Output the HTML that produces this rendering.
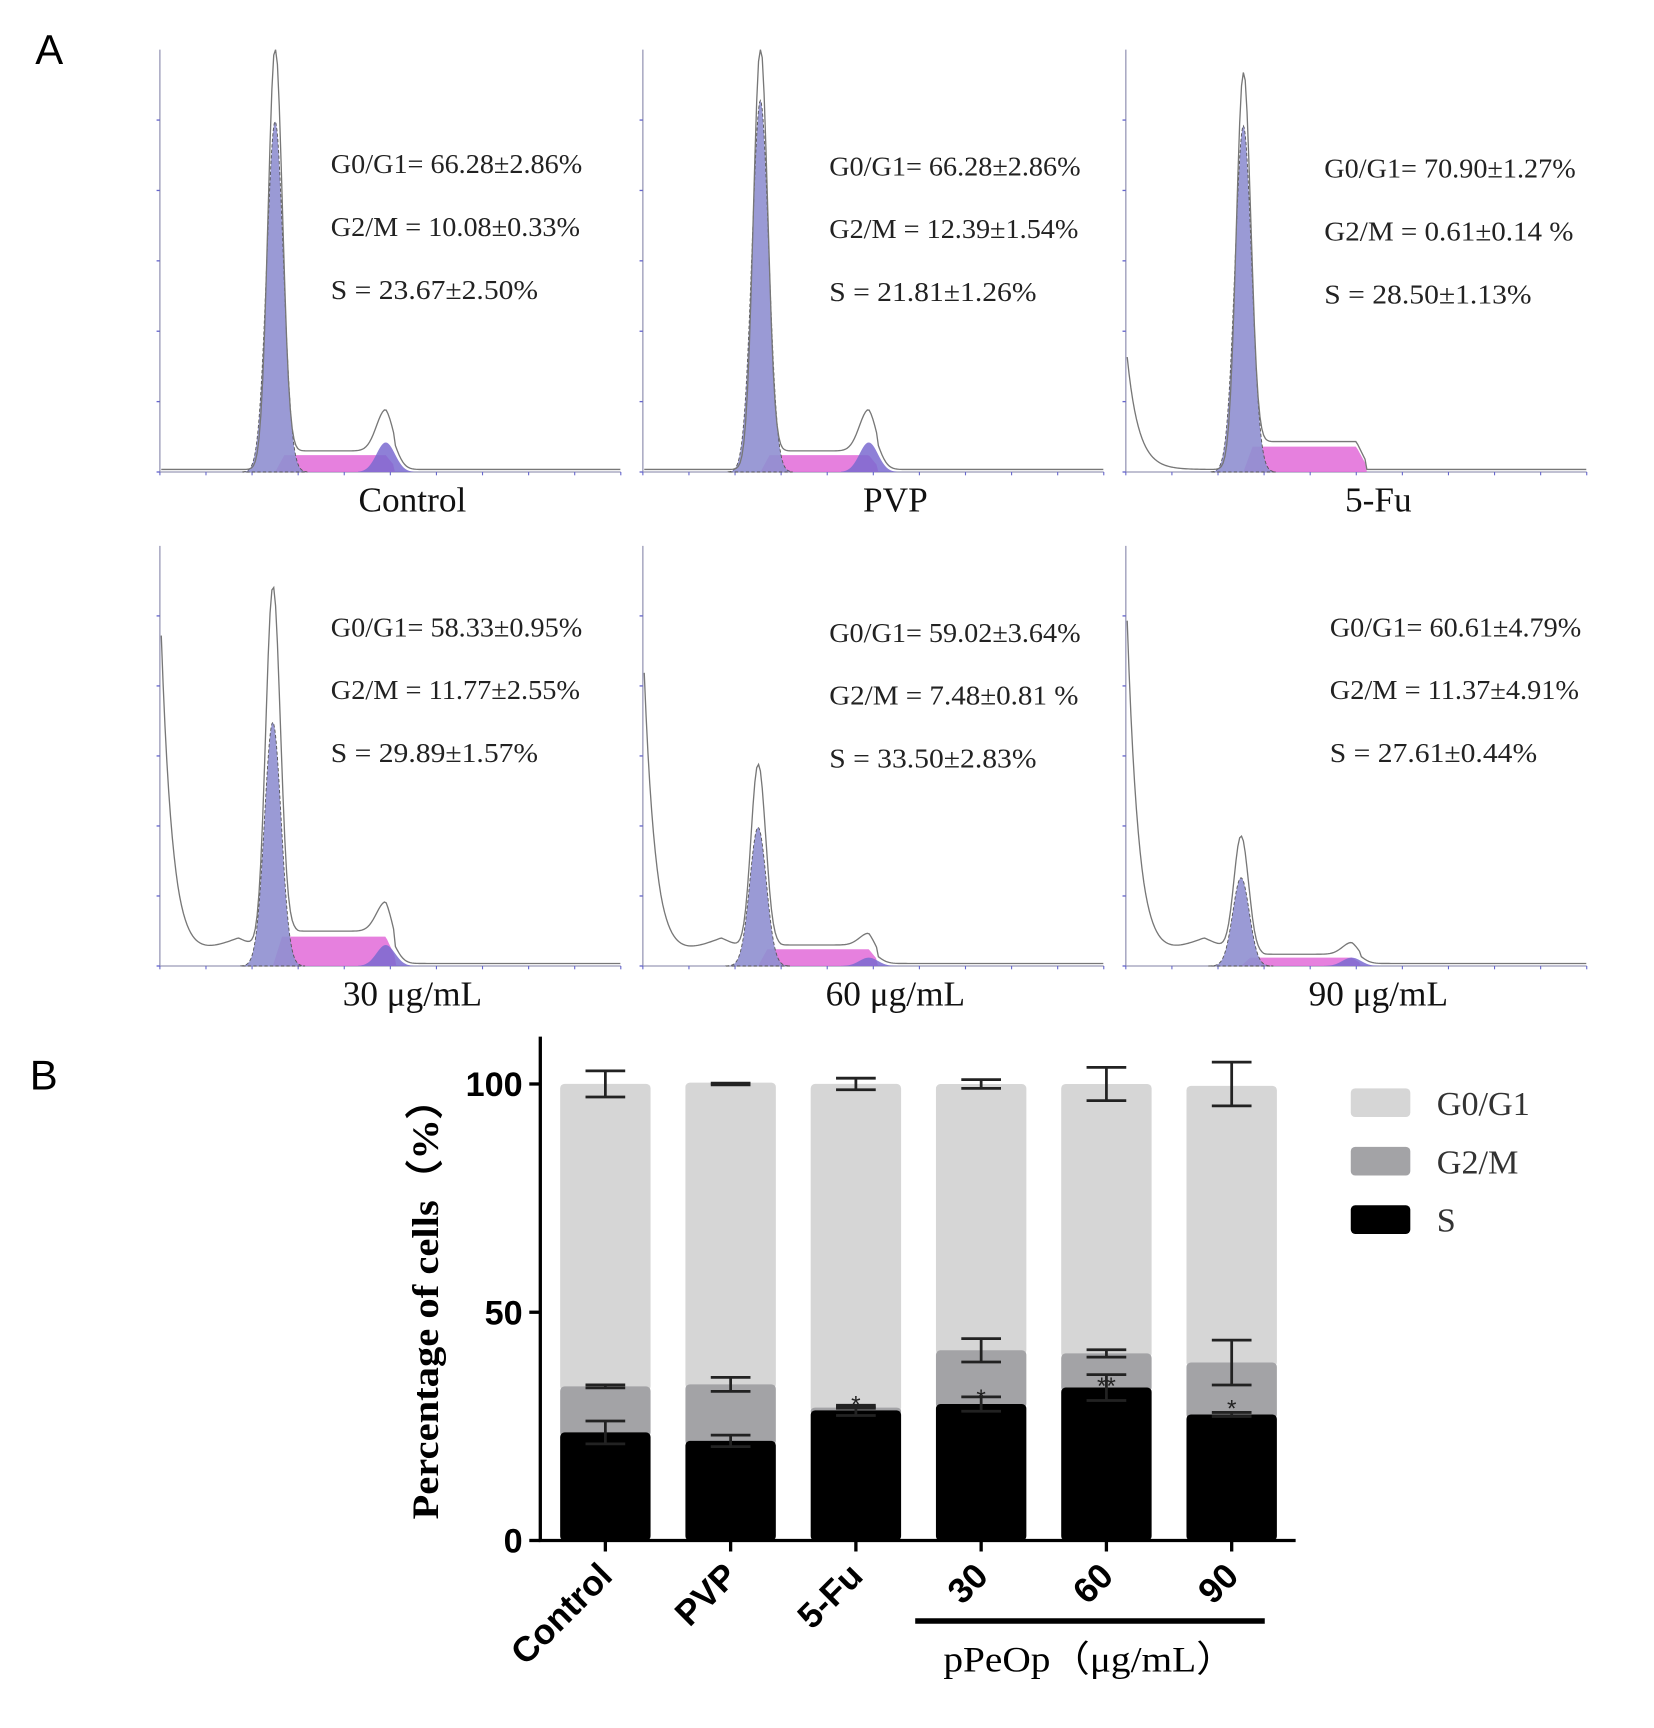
<!DOCTYPE html>
<html><head><meta charset="utf-8"><style>
html,body{margin:0;padding:0;background:#fff;}
svg{display:block;}
.serif{font-family:"Liberation Serif",serif;}
.sans{font-family:"Liberation Sans",sans-serif;}
</style></head><body>
<svg id="fig" width="1654" height="1728" viewBox="0 0 1500 1567" xmlns="http://www.w3.org/2000/svg">
<rect width="1500" height="1567" fill="#fff"/>
<text x="32" y="58" class="sans" font-size="38">A</text>
<text x="27" y="988" class="sans" font-size="38">B</text>
<g id="histos"></g>
<g id="bars"></g>
</svg>
<script>
// ---------- Panel A data ----------
const panelNames = ["Control","PVP","5-Fu","30 μg/mL","60 μg/mL","90 μg/mL"];
const g1Text = ["66.28±2.86%","66.28±2.86%","70.90±1.27%","58.33±0.95%","59.02±3.64%","60.61±4.79%"];
const g2Text = ["10.08±0.33%","12.39±1.54%","0.61±0.14 %","11.77±2.55%","7.48±0.81 %","11.37±4.91%"];
const sText = ["23.67±2.50%","21.81±1.26%","28.50±1.13%","29.89±1.57%","33.50±2.83%","27.61±0.44%"];
const g1Pos = [0.25,0.255,0.255,0.245,0.25,0.25];
const g1Height = [0.83,0.88,0.82,0.58,0.33,0.21];
const g1Outline = [1.0,1.0,0.94,0.87,0.45,0.28];
const g2Pos = [0.49,0.49,0.5,0.49,0.49,0.49];
const g2Height = [0.07,0.07,0.0,0.05,0.02,0.02];
const sHeight = [0.04,0.04,0.06,0.07,0.04,0.02];
const debris = [0.0,0.0,0.3,0.88,0.78,0.92];

const NS="http://www.w3.org/2000/svg";
function mk(tag,attrs,parent){const e=document.createElementNS(NS,tag);for(const k in attrs)e.setAttribute(k,attrs[k]);parent.appendChild(e);return e;}
const H=document.getElementById('histos');
const colX=[145,583,1021], rowBase=[428,876], rowTop=[45,495], AW=418;
const txOff=[155,169,180,155,169,185], tyAbs=[150,152,154,570,575,570];
for(let i=0;i<6;i++){
  const ox=colX[i%3], by=rowBase[Math.floor(i/3)], ty=rowTop[Math.floor(i/3)], ah=by-ty;
  const g=mk('g',{},H);
  
  
  mk('line',{x1:ox,y1:ty,x2:ox,y2:by,stroke:'#9a9ab8','stroke-width':1.2},g);
  mk('line',{x1:ox,y1:by,x2:ox+AW,y2:by,stroke:'#9a9ab8','stroke-width':1.2},g);
  for(let k=0;k<6;k++){mk('line',{x1:ox-3,x2:ox,y1:by-k*ah/6,y2:by-k*ah/6,stroke:'#6666cc','stroke-width':1.2},g);}
  for(let k=0;k<=10;k++){mk('line',{x1:ox+k*AW/10,x2:ox+k*AW/10,y1:by,y2:by+3,stroke:'#6666cc','stroke-width':1},g);}
  const px=f=>ox+f*AW, py=f=>by-f*ah;
  const gx1=g1Pos[i], gx2=g2Pos[i], sig1=0.018, sig2=0.02;
  const gauss=(x,m,s)=>Math.exp(-0.5*((x-m)/s)**2);
  const sFun=x=>(x>gx1&&x<gx2+0.02)?sHeight[i]*Math.min(1,(x-gx1)/0.02,(gx2+0.03-x)/0.03):0;
  let d='M'+px(gx1)+','+by;
  for(let x=gx1;x<=gx2+0.03;x+=0.004)d+=' L'+px(x)+','+py(sFun(x));
  d+=' L'+px(gx2+0.03)+','+by+'Z';
  mk('path',{d:d,fill:'#e26ad8','fill-opacity':0.85},g);
  if(g2Height[i]>0){d='M'+px(gx2-0.06)+','+by;for(let x=gx2-0.06;x<=gx2+0.06;x+=0.003)d+=' L'+px(x)+','+py(g2Height[i]*gauss(x,gx2,sig2));d+=' L'+px(gx2+0.06)+','+by+'Z';
  mk('path',{d:d,fill:'#7a6ad0','fill-opacity':0.85},g);}
  d='M'+px(gx1-0.07)+','+by;for(let x=gx1-0.07;x<=gx1+0.07;x+=0.002)d+=' L'+px(x)+','+py(g1Height[i]*gauss(x,gx1,sig1));d+=' L'+px(gx1+0.07)+','+by+'Z';
  mk('path',{d:d,fill:'#8f8fd0','fill-opacity':0.9,stroke:'#555','stroke-width':0.8,'stroke-dasharray':'3,2'},g);
  d='';
  for(let x=0.003;x<=1;x+=0.004){
    let y=g1Outline[i]*gauss(x,gx1,sig1*0.85)+sFun(x)*1.1+(g2Height[i]>0?g2Height[i]*1.4*gauss(x,gx2,sig2):0)+debris[i]*Math.exp(-x/0.025)+(debris[i]>0.5?0.06*Math.max(0,1-Math.abs(x-0.17)/0.13):0)+0.006;
    d+=(d?' L':'M')+px(x)+','+py(Math.min(y,1));
  }
  mk('path',{d:d,fill:'none',stroke:'#777','stroke-width':1.2},g);
  const tx=ox+txOff[i], ty0=tyAbs[i]+7;
  [["G0/G1= ",g1Text[i]],["G2/M = ",g2Text[i]],["S  = ",sText[i]]].forEach((r,k)=>{
    const t=mk('text',{x:tx,y:ty0+k*57,'font-size':25,class:'serif',fill:'#222','textLength':(k===0?228:(k===1?226:188)),'lengthAdjust':'spacingAndGlyphs'},g);
    t.textContent=r[0]+r[1];
    
    
  });
  const c=mk('text',{x:ox+AW/2+20,y:by+36,'font-size':32,'text-anchor':'middle',class:'serif',fill:'#111'},g);
  c.textContent=panelNames[i];
  
  
}

// ---------- Panel B data ----------
const categories = ["Control","PVP","5-Fu","30","60","90"];
const sVals = [23.67,21.81,28.50,29.89,33.50,27.61];
const g2Vals = [10.08,12.39,0.61,11.77,7.48,11.37];
const g1Vals = [66.28,66.28,70.90,58.33,59.02,60.61];
const sErr = [2.50,1.26,1.13,1.57,2.83,0.44];
const g2Err = [0.33,1.54,0.14,2.55,0.81,4.91];
const g1Err = [2.86,0.2,1.27,0.95,3.64,4.79];
const stars = ["","","*","*","**","*"];
const yTicks = [0,50,100];

const B=document.getElementById('bars');
const X0=490, X1=1175, Y0=1397, Y100=983;
const ys=v=>Y0-(Y0-Y100)*v/100;
const xs=i=>549+i*113.6;
const BW=82;
mk('line',{x1:X0,y1:940,x2:X0,y2:Y0,stroke:'#000','stroke-width':3},B);
mk('line',{x1:X0-1.5,y1:Y0,x2:X1,y2:Y0,stroke:'#000','stroke-width':3},B);
yTicks.forEach(v=>{
  mk('line',{x1:X0-10,x2:X0,y1:ys(v),y2:ys(v),stroke:'#000','stroke-width':3},B);
  const t=mk('text',{x:X0-16,y:ys(v)+11,'text-anchor':'end','font-size':31,'font-weight':'bold',class:'sans'},B);
  t.textContent=v;
  
  
});
const yl=mk('text',{x:0,y:0,transform:'translate(397,1178) rotate(-90)','text-anchor':'middle','font-size':34,'font-weight':'bold',class:'serif','textLength':400,'lengthAdjust':'spacingAndGlyphs'},B);
yl.textContent='Percentage of cells（%）';


function err(x,y,e,p){
  mk('line',{x1:x,x2:x,y1:ys(y-e),y2:ys(y+e),stroke:'#222','stroke-width':2.5},p);
  mk('line',{x1:x-18,x2:x+18,y1:ys(y-e),y2:ys(y-e),stroke:'#222','stroke-width':2.5},p);
  mk('line',{x1:x-18,x2:x+18,y1:ys(y+e),y2:ys(y+e),stroke:'#222','stroke-width':2.5},p);
}
categories.forEach((c,i)=>{
  const g=mk('g',{},B);
  
  
  const x=xs(i)-BW/2, s=sVals[i], g2=s+g2Vals[i], tot=g2+g1Vals[i];
  mk('rect',{x:x,y:ys(Math.min(tot,100.3)),width:BW,height:ys(g2)-ys(Math.min(tot,100.3))+4,rx:4,fill:'#d6d6d6'},g);
  mk('rect',{x:x,y:ys(g2),width:BW,height:ys(s)-ys(g2)+4,rx:4,fill:'#a3a3a6'},g);
  mk('rect',{x:x,y:ys(s),width:BW,height:ys(0)-ys(s),rx:4,fill:'#000'},g);
  err(xs(i),100,g1Err[i],g);
  err(xs(i),g2,g2Err[i],g);
  err(xs(i),s,sErr[i],g);
  if(stars[i]){const t=mk('text',{x:xs(i),y:ys(s)+(i===4?6:2),'text-anchor':'middle','font-size':22,class:'sans',fill:'#222'},g);t.textContent=stars[i];
    
    }
  mk('line',{x1:xs(i),x2:xs(i),y1:Y0,y2:Y0+10,stroke:'#000','stroke-width':3},B);
  const lab=mk('text',{x:0,y:0,transform:'translate('+(xs(i)+8)+','+(Y0+34)+') rotate(-45)','text-anchor':'end','font-size':32,'font-weight':'bold',class:'sans'},B);
  lab.textContent=c;
  
  
});
mk('line',{x1:830,x2:1147,y1:1470,y2:1470,stroke:'#000','stroke-width':5},B);
const grp=mk('text',{x:988,y:1516,'text-anchor':'middle','font-size':33,class:'serif','textLength':265,'lengthAdjust':'spacingAndGlyphs'},B);
grp.textContent='pPeOp（μg/mL）';


const legNames=["G0/G1","G2/M","S"], legCols=['#d6d6d6','#a3a3a6','#000'];
legNames.forEach((n,k)=>{
  const g=mk('g',{},B);
  
  
  mk('rect',{x:1225,y:987+k*53,width:54,height:26,rx:4,fill:legCols[k]},g);
  const t=mk('text',{x:1303,y:1011+k*53,'font-size':31,class:'serif',fill:'#333'},g);
  t.textContent=n;
});
</script>
</body></html>
